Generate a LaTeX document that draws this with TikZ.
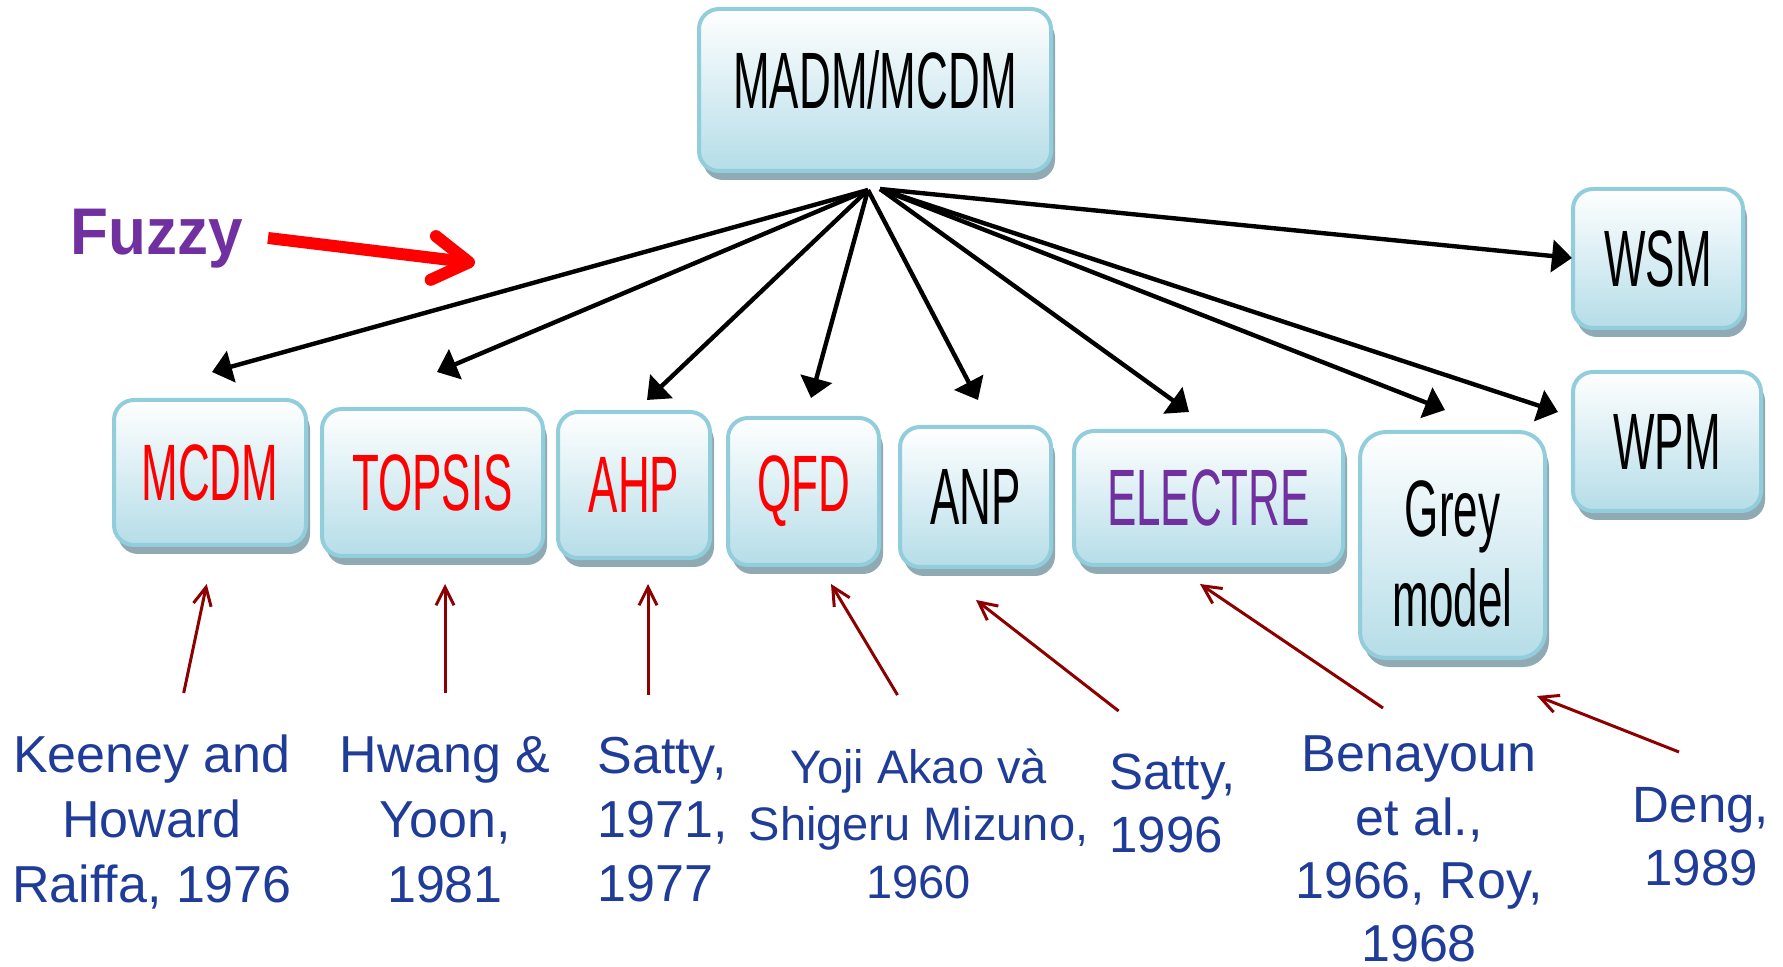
\documentclass[tikz,border=0pt]{standalone}
\usepackage{fontspec}
\setmainfont{Liberation Sans}
\usetikzlibrary{arrows.meta,shadows}

\definecolor{boxedge}{RGB}{146,205,220}
\definecolor{boxbot}{RGB}{181,221,232}
\definecolor{boxshade}{RGB}{143,170,179}
\definecolor{hotred}{RGB}{255,0,0}
\definecolor{violet}{RGB}{112,48,160}
\definecolor{citeblue}{RGB}{31,60,152}
\definecolor{linkred}{RGB}{140,0,0}

% condensed labels inside the method boxes
\newcommand\squeezed[1]{\scalebox{0.55}[1]{#1}}
% stacked reference lines with a fixed baseline grid
\newcommand\refstack[2]{\begin{tabular}{@{}#1@{}}#2\end{tabular}}

\begin{document}
\begin{tikzpicture}[x=0.5pt, y=-0.5pt,
  method/.style={rectangle, rounded corners=10pt, draw=boxedge, line width=2pt,
    top color=white, bottom color=boxbot, inner sep=0pt, align=center,
    font=\fontsize{40}{45}\selectfont,
    drop shadow={shadow xshift=2pt, shadow yshift=-4.5pt, fill=boxshade, opacity=1}},
  fanarrow/.style={draw=black, line width=2.2pt, -{Triangle[length=10pt,width=16pt]}},
  refnote/.style={inner sep=0pt, text=citeblue},
  refarrow/.style={draw=linkred, line width=1.5pt, -{Straight Barb[length=9pt,width=9pt]}}
]
\useasboundingbox (0,0) rectangle (1783,967);

% ---- root box ----
\node[method, minimum width=176pt, minimum height=81pt] (root) at (875,90)
  {\raisebox{10pt}{\squeezed{MADM/MCDM}}};

% ---- method boxes ----
\node[method, minimum width=96pt,  minimum height=72.5pt, text=hotred] (mcdm)    at (210,472.5) {\squeezed{MCDM}};
\node[method, minimum width=110.5pt, minimum height=73.5pt, text=hotred] (topsis) at (432.5,482.5) {\squeezed{TOPSIS}};
\node[method, minimum width=76pt,  minimum height=73pt, text=hotred] (ahp)       at (634,485) {\squeezed{AHP}};
\node[method, minimum width=75.5pt, minimum height=73.5pt, text=hotred] (qfd)    at (803.5,491.5) {\squeezed{QFD}};
\node[method, minimum width=75.5pt, minimum height=70pt] (anp)                   at (975.5,497) {\squeezed{ANP}};
\node[method, minimum width=134.5pt, minimum height=67pt, text=violet] (electre) at (1208.5,498) {\squeezed{ELECTRE}};
\node[method, minimum width=92.5pt, minimum height=113pt, rounded corners=13pt] (grey) at (1452.5,545)
  {\rule{0pt}{36.5pt}\squeezed{Grey}\\\squeezed{model}};
\node[method, minimum width=85pt,  minimum height=69.5pt] (wsm) at (1658,258.5) {\squeezed{WSM}};
\node[method, minimum width=94pt,  minimum height=69.5pt] (wpm) at (1667,441.5) {\squeezed{WPM}};

% ---- fan of arrows from the root ----
\coordinate (hubL) at (868,190);
\coordinate (hubR) at (880,189);
\coordinate (tMCDM)    at (212,372);
\coordinate (tTOPSIS)  at (437,372);
\coordinate (tAHP)     at (647,400);
\coordinate (tQFD)     at (811,398);
\coordinate (tANP)     at (978,400);
\coordinate (tELECTRE) at (1189,412);
\coordinate (tGREY)    at (1445,410);
\coordinate (tWPM)     at (1558,412);
\coordinate (tWSM)     at (1572,258);

\draw[fanarrow] (hubL) -- (tMCDM);
\draw[fanarrow] (hubL) -- (tTOPSIS);
\draw[fanarrow] (hubL) -- (tAHP);
\draw[fanarrow] (hubL) -- (tQFD);
\draw[fanarrow] (hubL) -- (tANP);
\draw[fanarrow] (hubR) -- (tELECTRE);
\draw[fanarrow] (hubR) -- (tGREY);
\draw[fanarrow] (hubR) -- (tWPM);
\draw[fanarrow] (hubR) -- (tWSM);

% ---- Fuzzy marker ----
\node[anchor=base west, inner sep=0pt, text=violet,
      font=\fontsize{33}{33}\selectfont\bfseries] (fuzzy) at (70,255) {\scalebox{0.94}[1]{Fuzzy}};
\coordinate (fzA) at (268,238);
\coordinate (fzB) at (475,263);
\draw[hotred, line width=6pt, -{Straight Barb[round,length=18pt,width=22pt]}] (fzA) -- (fzB);

% ---- references ----
\node[refnote, anchor=north, font=\fontsize{26}{32.5}\selectfont] (rKeeney) at (152,726.5)
  {\refstack{c}{Keeney and\\Howard\\Raiffa, 1976}};
\node[refnote, anchor=north, font=\fontsize{26}{32.5}\selectfont] (rHwang) at (445,726.5)
  {\refstack{c}{Hwang \&\\Yoon,\\1981}};
\node[refnote, anchor=north west, font=\fontsize{26}{32}\selectfont] (rSatty) at (597,728.2)
  {\refstack{l}{Satty,\\1971,\\1977}};
\node[refnote, anchor=north, font=\fontsize{23.5}{28.75}\selectfont] (rAkao) at (918.5,742.75)
  {\refstack{c}{Yoji Akao và\\Shigeru Mizuno,\\1960}};
\node[refnote, anchor=north west, font=\fontsize{25.5}{31.5}\selectfont] (rSatty2) at (1109,744.9)
  {\refstack{l}{Satty,\\1996}};
\node[refnote, anchor=north, font=\fontsize{26}{31.7}\selectfont] (rBenayoun) at (1419,727)
  {\refstack{c}{Benayoun\\et al.,\\1966, Roy,\\1968}};
\node[refnote, anchor=north, font=\fontsize{25.5}{31.5}\selectfont] (rDeng) at (1701,777.9)
  {\refstack{c}{Deng,\\1989}};

% ---- reference pointers ----
\coordinate (aK0) at (183.7,693);  \coordinate (aK1) at (206.7,584);
\coordinate (aH0) at (445,693);    \coordinate (aH1) at (445,584);
\coordinate (aS0) at (648,695);    \coordinate (aS1) at (648,584);
\coordinate (aY0) at (897.5,695);  \coordinate (aY1) at (831,584);
\coordinate (aT0) at (1118.6,711); \coordinate (aT1) at (976,600);
\coordinate (aB0) at (1383,708);   \coordinate (aB1) at (1200,584);
\coordinate (aD0) at (1679,752);   \coordinate (aD1) at (1537,696);

\draw[refarrow] (aK0) -- (aK1);
\draw[refarrow] (aH0) -- (aH1);
\draw[refarrow] (aS0) -- (aS1);
\draw[refarrow] (aY0) -- (aY1);
\draw[refarrow] (aT0) -- (aT1);
\draw[refarrow] (aB0) -- (aB1);
\draw[refarrow] (aD0) -- (aD1);
\end{tikzpicture}
\end{document}
